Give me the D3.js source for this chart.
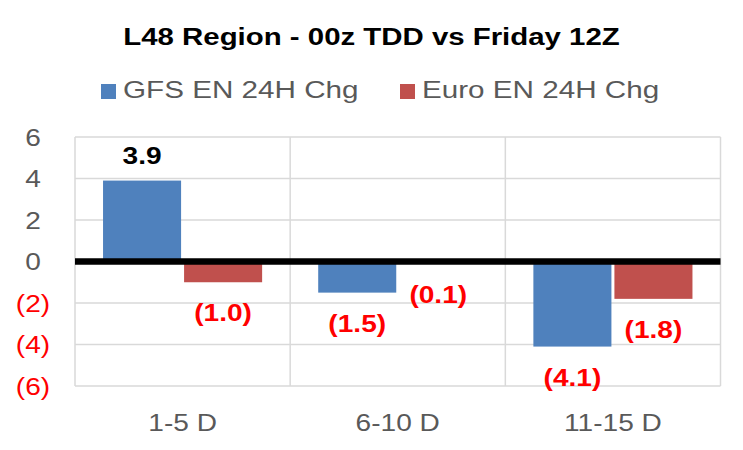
<!DOCTYPE html>
<html>
<head>
<meta charset="utf-8">
<script src="https://cdn.jsdelivr.net/npm/d3@7"></script>
<style>
  body { margin: 0; background: #fff; }
  text { font-family: "Liberation Sans", Arial, sans-serif; }
</style>
</head>
<body>
<div id="chart"></div>
<script>
// categories and series
var categories = ["1-5 D", "6-10 D", "11-15 D"];
var seriesNames = ["GFS EN 24H Chg", "Euro EN 24H Chg"];
var gfsValues = [3.9, -1.5, -4.1];
var euroValues = [-1.0, -0.1, -1.8];
var yTicks = [6, 4, 2, 0, -2, -4, -6];

var colors = ["#4F81BD", "#C0504D"];
var width = 743, height = 450;
var sx = 1.17; // text looks horizontally stretched in the original

var svg = d3.select("#chart").append("svg")
    .attr("width", width)
    .attr("height", height);

var plotL = 75, plotR = 720.5, plotT = 137, plotB = 386;

var x = d3.scaleBand()
    .domain(categories)
    .range([plotL, plotR])
    .padding(0);

var x1 = d3.scaleBand()
    .domain(seriesNames)
    .range([0, x.bandwidth()])
    .paddingInner(0.037)
    .paddingOuter(0.346);

var y = d3.scaleLinear()
    .domain([-6, 6])
    .range([plotB, plotT]);

// stretched text helper
function stext(g, tx, ty, k) {
  return g.append("text")
    .attr("transform", "translate(" + tx + "," + ty + ") scale(" + (k || sx) + ",1)");
}

// title
stext(svg, width / 2, 45, 1.2)
    .attr("text-anchor", "middle")
    .style("font-size", "24.5px")
    .style("font-weight", "bold")
    .attr("fill", "#000")
    .text("L48 Region - 00z TDD vs Friday 12Z");

// legend
var legendX = [101, 400];
seriesNames.forEach(function(s, i) {
  svg.append("rect")
    .attr("x", legendX[i]).attr("y", 84)
    .attr("width", 15).attr("height", 15)
    .attr("fill", colors[i]);
  stext(svg, legendX[i] + 22, 98, 1.21)
    .style("font-size", "24.5px")
    .attr("fill", "#595959")
    .text(s);
});

// gridlines
var grid = svg.append("g");
yTicks.forEach(function(t) {
  grid.append("line")
    .attr("x1", plotL).attr("x2", plotR)
    .attr("y1", y(t)).attr("y2", y(t))
    .attr("stroke", "#D9D9D9").attr("stroke-width", 1.5);
});
var bounds = categories.map(function(c) { return x(c); }).concat([plotR]);
bounds.forEach(function(b) {
  grid.append("line")
    .attr("x1", b).attr("x2", b)
    .attr("y1", plotT).attr("y2", plotB)
    .attr("stroke", "#D9D9D9").attr("stroke-width", 1.5);
});

// y tick labels
yTicks.forEach(function(t) {
  stext(svg, 33, y(t) + 8.5)
    .attr("text-anchor", "middle")
    .style("font-size", "24px")
    .attr("fill", t < 0 ? "#FF0000" : "#595959")
    .text(t < 0 ? "(" + Math.abs(t) + ")" : t);
});

// x tick labels
categories.forEach(function(c) {
  stext(svg, x(c) + x.bandwidth() / 2, 431)
    .attr("text-anchor", "middle")
    .style("font-size", "24px")
    .attr("fill", "#595959")
    .text(c);
});

// bars
var rows = categories.map(function(c, i) {
  return { cat: c, vals: [gfsValues[i], euroValues[i]] };
});

var groups = svg.selectAll("g.cat")
  .data(rows)
  .enter().append("g")
    .attr("class", "cat")
    .attr("transform", function(d) { return "translate(" + x(d.cat) + ",0)"; });

groups.selectAll("rect")
  .data(function(d) { return d.vals.map(function(v, i) { return { s: seriesNames[i], v: v, i: i }; }); })
  .enter().append("rect")
    .attr("x", function(d) { return x1(d.s); })
    .attr("y", function(d) { return y(Math.max(0, d.v)); })
    .attr("width", x1.bandwidth())
    .attr("height", function(d) { return Math.abs(y(d.v) - y(0)); })
    .attr("fill", function(d) { return colors[d.i]; });

// zero line
svg.append("line")
  .attr("x1", plotL).attr("x2", plotR)
  .attr("y1", y(0)).attr("y2", y(0))
  .attr("stroke", "#000").attr("stroke-width", 6.5);

// data labels
function fmt(v) {
  return v < 0 ? "(" + Math.abs(v).toFixed(1) + ")" : v.toFixed(1);
}
rows.forEach(function(r) {
  r.vals.forEach(function(v, i) {
    var cx = x(r.cat) + x1(seriesNames[i]) + x1.bandwidth() / 2;
    var ty = v >= 0 ? y(v) - 17 : y(v) + 39;
    stext(svg, cx, ty)
      .attr("text-anchor", "middle")
      .style("font-size", "24px")
      .style("font-weight", "bold")
      .attr("fill", v < 0 ? "#FF0000" : "#000")
      .text(fmt(v));
  });
});
</script>
</body>
</html>
